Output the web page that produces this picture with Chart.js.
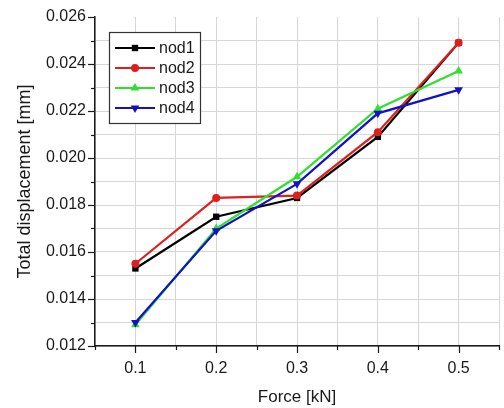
<!DOCTYPE html>
<html>
<head>
<meta charset="utf-8">
<script src="https://cdn.jsdelivr.net/npm/chart.js@4/dist/chart.umd.min.js"></script>
<style>
  html, body { margin: 0; padding: 0; background: #fff; }
  #wrap { width: 504px; height: 408px; }
</style>
</head>
<body>
<div id="wrap"><canvas id="dispChart" width="504" height="408"></canvas></div>
<script>
// force steps (kN) and total displacement (mm) per node
const forces = [0.1, 0.2, 0.3, 0.4, 0.5];
const nod1 = [0.0153, 0.0175, 0.0183, 0.0209, 0.0249];
const nod2 = [0.0155, 0.0183, 0.0184, 0.0211, 0.0249];
const nod3 = [0.0129, 0.0170, 0.0192, 0.0221, 0.0237];
const nod4 = [0.0130, 0.0169, 0.0189, 0.0219, 0.0229];
const seriesNames = ["nod1", "nod2", "nod3", "nod4"];

const FONT = "'Liberation Sans', Arial, sans-serif";
const INK = "#1a1a1a";

function toPoints(vals) {
    return forces.map((f, i) => ({ x: f, y: vals[i] }));
}

const styles = [
    { color: "#000000", pointStyle: "rect", radius: 4.5, rotation: 0 },
    { color: "#dd1f1f", pointStyle: "circle", radius: 4, rotation: 0 },
    { color: "#2fe02f", pointStyle: "triangle", radius: 5, rotation: 0 },
    { color: "#1212c4", pointStyle: "triangle", radius: 5, rotation: 180 }
];

const datasets = [nod1, nod2, nod3, nod4].map((vals, i) => ({
    label: seriesNames[i],
    data: toPoints(vals),
    borderColor: styles[i].color,
    backgroundColor: styles[i].color,
    borderWidth: 2.2,
    pointStyle: styles[i].pointStyle,
    pointRadius: styles[i].radius,
    pointRotation: styles[i].rotation,
    pointBorderWidth: 0,
    tension: 0,
    order: 4 - i   // later nodes drawn on top
}));

// outward tick marks: long on labelled values, short in between
const tickMarks = {
    id: "tickMarks",
    afterDraw(chart) {
        const ctx = chart.ctx;
        const xs = chart.scales.x, ys = chart.scales.y;
        const area = chart.chartArea;
        ctx.save();
        ctx.strokeStyle = INK;
        ctx.lineWidth = 1.2;
        xs.ticks.forEach(t => {
            const px = Math.round(xs.getPixelForValue(t.value)) + 0.5;
            const major = Math.round(t.value * 100) % 10 === 0;
            ctx.beginPath();
            ctx.moveTo(px, area.bottom);
            ctx.lineTo(px, area.bottom + (major ? 7 : 4));
            ctx.stroke();
        });
        ys.ticks.forEach(t => {
            const py = Math.round(ys.getPixelForValue(t.value)) + 0.5;
            const major = Math.round(t.value * 1000) % 2 === 0;
            ctx.beginPath();
            ctx.moveTo(area.left, py);
            ctx.lineTo(area.left - (major ? 7 : 4), py);
            ctx.stroke();
        });
        ctx.restore();
    }
};

// boxed legend with line + marker samples inside the plot
const boxLegend = {
    id: "boxLegend",
    afterDraw(chart) {
        const ctx = chart.ctx;
        const bx = 109.5, by = 32.5, bw = 91, bh = 91;
        ctx.save();
        ctx.fillStyle = "#ffffff";
        ctx.fillRect(bx, by, bw, bh);
        ctx.strokeStyle = "#333";
        ctx.lineWidth = 1.2;
        ctx.strokeRect(bx, by, bw, bh);
        ctx.font = "16px " + FONT;
        ctx.textBaseline = "middle";
        chart.data.datasets.forEach((ds, i) => {
            const y = 48 + i * 20;
            ctx.strokeStyle = ds.borderColor;
            ctx.lineWidth = 2.2;
            ctx.beginPath();
            ctx.moveTo(115, y);
            ctx.lineTo(155, y);
            ctx.stroke();
            ctx.fillStyle = ds.backgroundColor;
            Chart.helpers.drawPoint(ctx, {
                pointStyle: ds.pointStyle,
                radius: ds.pointRadius,
                rotation: ds.pointRotation,
                borderWidth: 0
            }, 135, y);
            ctx.fillStyle = INK;
            ctx.fillText(ds.label, 159, y + 1);
        });
        ctx.restore();
    }
};

new Chart(document.getElementById("dispChart"), {
    type: "line",
    data: { datasets: datasets },
    options: {
        responsive: false,
        animation: false,
        layout: { padding: { top: 17, right: 0, left: 0, bottom: 0 } },
        plugins: {
            legend: { display: false },
            tooltip: { enabled: false }
        },
        scales: {
            x: {
                type: "linear",
                min: 0.05,
                max: 0.55,
                afterFit: s => { s.height = 62; s.paddingLeft = 0; s.paddingRight = 0; },
                grid: { color: "#d6d6d6", lineWidth: 1, drawTicks: false },
                border: { color: INK, width: 1.5 },
                ticks: {
                    stepSize: 0.05,
                    padding: 13,
                    color: INK,
                    font: { family: FONT, size: 16 },
                    callback: v => (Math.round(v * 100) % 10 === 0 ? v.toFixed(1) : "")
                },
                title: {
                    display: true,
                    text: "Force [kN]",
                    color: INK,
                    font: { family: FONT, size: 17 },
                    padding: { top: 0, bottom: 0 }
                }
            },
            y: {
                min: 0.012,
                max: 0.026,
                afterFit: s => { s.width = 95; s.paddingTop = 0; s.paddingBottom = 0; },
                grid: {
                    color: ctx => (ctx.tick && Math.abs(ctx.tick.value - 0.026) < 1e-6 ? "rgba(0,0,0,0)" : "#d6d6d6"),
                    lineWidth: 1,
                    drawTicks: false
                },
                border: { color: INK, width: 1.5 },
                ticks: {
                    stepSize: 0.001,
                    padding: 9,
                    color: INK,
                    font: { family: FONT, size: 16 },
                    callback: v => (Math.round(v * 1000) % 2 === 0 ? v.toFixed(3) : "")
                },
                title: {
                    display: true,
                    text: "Total displacement [mm]",
                    color: INK,
                    font: { family: FONT, size: 18 },
                    padding: { top: 14, bottom: 0 }
                }
            }
        }
    },
    plugins: [tickMarks, boxLegend]
});
</script>
</body>
</html>
